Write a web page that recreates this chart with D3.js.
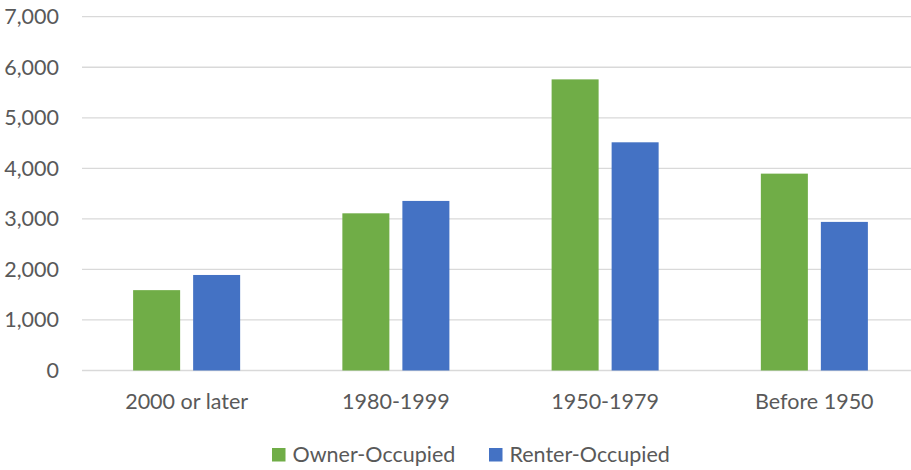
<!DOCTYPE html>
<html>
<head>
<meta charset="utf-8">
<script src="https://cdn.jsdelivr.net/npm/d3@7"></script>
<style>
  body { margin: 0; background: #fff; }
  svg { display: block; }
  text { font-family: Lato, "Open Sans", sans-serif; fill: #595959; }
</style>
</head>
<body>
<svg id="chart" width="911" height="470"></svg>
<script>
const categories = ["2000 or later", "1980-1999", "1950-1979", "Before 1950"];
const seriesNames = ["Owner-Occupied", "Renter-Occupied"];
const ownerValues = [1590, 3110, 5760, 3895];
const renterValues = [1890, 3355, 4515, 2940];
const yTicks = [0, 1000, 2000, 3000, 4000, 5000, 6000, 7000];
const colors = ["#70AD47", "#4472C4"];

(function () {
const svg = d3.select("#chart");
const mLeft = 82, mRight = 919, mTop = 16.7, mBottom = 370.5;
const fs = 21.5;

const y = d3.scaleLinear().domain([0, 7000]).range([mBottom, mTop]);
const x0 = d3.scaleBand().domain(categories).range([mLeft, mRight])
  .paddingInner(0.4885).paddingOuter(0.2443);
const x1 = d3.scaleBand().domain(seriesNames).range([0, x0.bandwidth()])
  .paddingInner(13 / 60);

// gridlines
svg.append("g").selectAll("line").data(yTicks).join("line")
  .attr("x1", mLeft).attr("x2", 911)
  .attr("y1", d => y(d)).attr("y2", d => y(d))
  .attr("stroke", "#D9D9D9").attr("stroke-width", 1.3);

// y axis labels
const fmt = d3.format(",");
svg.append("g").selectAll("text").data(yTicks).join("text")
  .attr("x", 59).attr("y", d => y(d)).attr("dy", "0.35em")
  .attr("text-anchor", "end").attr("font-size", fs)
  .text(d => fmt(d));

// bars
const rows = categories.map((c, i) => ({ cat: c, vals: [ownerValues[i], renterValues[i]] }));
const groups = svg.append("g").selectAll("g").data(rows).join("g")
  .attr("transform", d => `translate(${x0(d.cat)},0)`);
groups.selectAll("rect").data(d => d.vals.map((v, j) => ({ s: seriesNames[j], v, j })))
  .join("rect")
  .attr("x", d => x1(d.s)).attr("width", x1.bandwidth())
  .attr("y", d => y(d.v)).attr("height", d => y(0) - y(d.v))
  .attr("fill", d => colors[d.j]);

// x labels
svg.append("g").selectAll("text").data(categories).join("text")
  .attr("x", d => x0(d) + x0.bandwidth() / 2).attr("y", 409)
  .attr("text-anchor", "middle").attr("font-size", fs)
  .text(d => d);

// legend
const legendX = [272, 489];
const lg = svg.append("g").selectAll("g").data(seriesNames).join("g")
  .attr("transform", (d, i) => `translate(${legendX[i]},448)`);
lg.append("rect").attr("width", 13.5).attr("height", 13.5).attr("fill", (d, i) => colors[i]);
lg.append("text").attr("x", 20.5).attr("y", 14).attr("font-size", fs).text(d => d);
})();
</script>
</body>
</html>
